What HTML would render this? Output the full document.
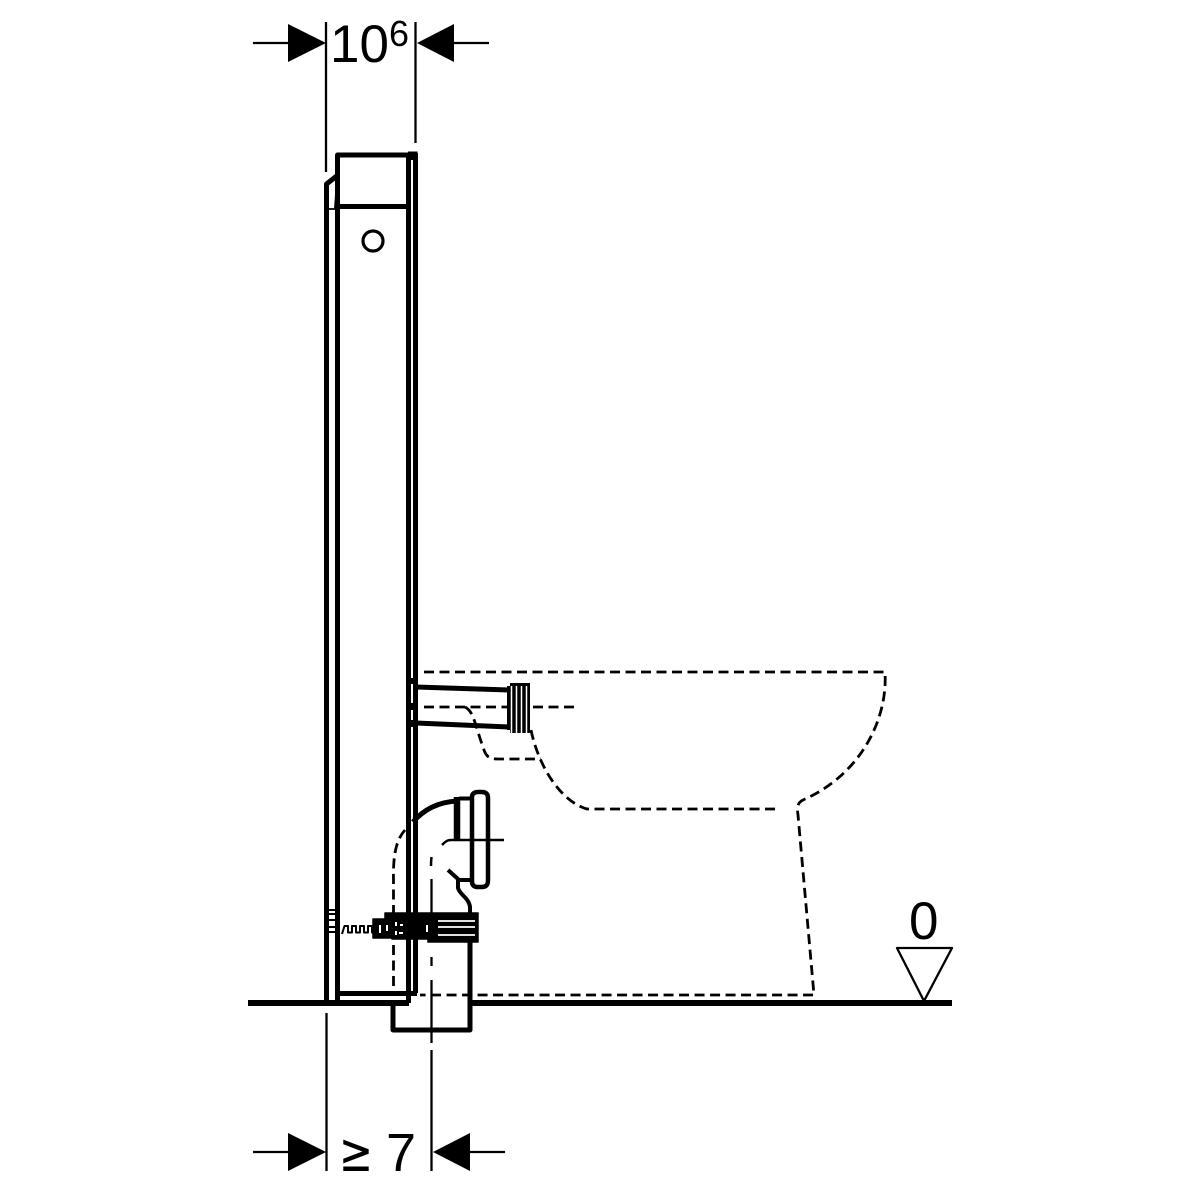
<!DOCTYPE html>
<html><head><meta charset="utf-8"><style>
html,body{margin:0;padding:0;background:#fff}
svg{display:block}
text{font-family:"Liberation Sans",sans-serif;fill:#000}
</style></head><body>
<svg width="1200" height="1200" viewBox="0 0 1200 1200" xmlns="http://www.w3.org/2000/svg" fill="none" stroke="#000" stroke-linejoin="round">
<!-- dimensions -->
<g stroke-width="2.300">
<path d="M326 22V172M415.500 22V143"/>
<path d="M253 43H290M452 43H489"/>
<path d="M326.500 1013V1171M431.500 1050V1171M431.500 980V1043M431.500 957V966"/>
<path d="M253 1152H290M468 1152H505"/>
</g>
<path d="M288 24L326 43L288 62Z M454 24L417 43L454 62Z M288 1133L326 1152L288 1171Z M470 1133L433 1152L470 1171Z" fill="#000" stroke="none"/>
<text x="330" y="62" font-size="53" stroke="none">10</text>
<text x="389" y="46" font-size="36" stroke="none">6</text>
<text x="339" y="1171" font-size="54" stroke="none" style="font-family:'DejaVu Sans',sans-serif" textLength="34" lengthAdjust="spacingAndGlyphs">≥</text>
<text x="386" y="1171" font-size="54" stroke="none">7</text>
<text x="909" y="939" font-size="53" stroke="none">0</text>
<!-- panel -->
<g stroke-width="5">
<path d="M337.500 1003V155H415"/>
<path d="M408.500 153V1003"/>
<path d="M415.500 153V993"/>
<path d="M337 206.500H408"/>
<path d="M326.500 1003V184L338 175"/>
<path d="M337 993.500H417"/>
</g>
<path d="M326 209H337M337 178L335 208" stroke-width="1.800"/>
<path d="M408 151.500H417.500V160H408Z" fill="#000" stroke="none"/>
<circle cx="373" cy="241" r="10" stroke-width="3.200"/>
<!-- floor -->
<path d="M248 1003H409M471 1003H952" stroke-width="6"/>
<path d="M393 1003V1030H470V940" stroke-width="5"/>
<path d="M897 948H952L924 1001Z" stroke-width="2.300"/>
<!-- bracket ticks -->
<path d="M328 910H337M328 914H337M328 920H337M328 927H337M328 932H337" stroke-width="2"/>
<!-- upper pipe -->
<path d="M416 687L509 690M416 723L509 727" stroke-width="5"/>
<path d="M507 686H510V683H530V733H510V730H507Z" fill="#000" stroke="none"/>
<path d="M511.500 686V733M516.500 686V733M521.500 686V733M526.500 686V733" stroke="#fff" stroke-width="1.500"/>
<path d="M408 678H417V684H408ZM408 703H417V710H408ZM408 720H417V727H408Z" fill="#000" stroke="none"/>
<!-- toilet dashed -->
<g stroke-width="2.800" stroke-dasharray="10 5.500">
<path d="M424 672H885C888 720 860 775 803 800C797 803 797 808 798 815L814 995H420"/>
<path d="M424 707H507"/>
<path d="M465 707C474 712 474 722 484 750C486 756 489 759 498 759H541"/>
<path d="M533 707H576"/>
<path d="M531 730C537 760 557 800 587 809H778"/>
<path d="M405 830C396 840 393 855 393.500 880V915"/>
<path d="M393.500 945V993"/>
</g>
<path d="M431.500 857C431 861 431 863 431 866" stroke-width="2.500"/>
<!-- elbow -->
<path d="M413 822C425 808 440 802 457 801" stroke-width="5"/>
<path d="M457 797V840" stroke-width="6.500"/>
<path d="M459 798.500H472M459 880H472" stroke-width="4"/>
<path d="M472 797C472 794 474 792 478 792H482C486 792 488 794 488 798V880C488 885 486 887 482 887H478C474 887 472 885 472 882Z" stroke-width="4.500"/>
<path d="M442 845C445 842 447 840 451 840H504" stroke-width="2.500"/>
<path d="M448 870L458 879V888C460 895 469 898 470 907V915" stroke-width="4"/>
<path d="M431.500 879V915" stroke-width="2.300"/>
<!-- clamp -->
<path d="M373 919H385V913H478V942H428V939H392V938H373Z" fill="#000" stroke="#000" stroke-width="1.500"/>
<path d="M438 921H475M438 927H475M438 935H475" stroke="#fff" stroke-width="1.800"/>
<path d="M380 925V933M387 925V931M396 922V926M396 931V935M400 925H403M399 933H403M427 925V932" stroke="#fff" stroke-width="2"/>
<path d="M342 934L344.500 926H348V932.500H352V926H356V932.500H360V926H364V932.500H368V926H372V932.500H376" stroke-width="2"/>
</svg>
</body></html>
